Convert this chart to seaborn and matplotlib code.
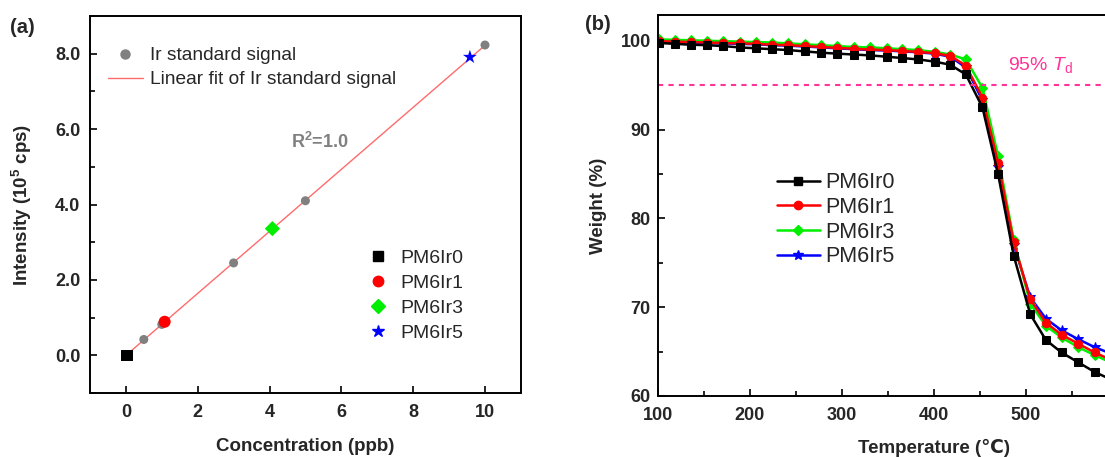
import numpy as np
import pandas as pd
import matplotlib
matplotlib.use("Agg")
import matplotlib.pyplot as plt
import seaborn as sns
from matplotlib.lines import Line2D
from matplotlib.ticker import MultipleLocator, FixedLocator

# ---------------- data: panel (a) ----------------
std_conc = [0, 0.5, 1, 3, 5, 10]
std_intensity = [0.0, 0.42, 0.82, 2.45, 4.10, 8.23]
sample_names = ["PM6Ir0", "PM6Ir1", "PM6Ir3", "PM6Ir5"]
sample_conc = [0.03, 1.08, 4.08, 9.58]
sample_intensity = [0.0, 0.89, 3.36, 7.91]

# ---------------- data: panel (b) ----------------
temperature = [101, 119, 136, 154, 171, 189, 207, 224, 242, 260, 278, 295, 313, 331, 349,
               366, 383, 401, 418, 435, 453, 470, 487, 505, 522, 539, 557, 575, 592]
w_ir0 = [99.75, 99.65, 99.55, 99.5, 99.4, 99.25, 99.15, 99.05, 98.95, 98.8, 98.65, 98.55, 98.45,
         98.35, 98.2, 98.05, 97.9, 97.65, 97.3, 96.2, 92.5, 85.0, 75.8, 69.2, 66.3, 64.9, 63.8,
         62.7, 61.9]
w_ir1 = [99.95, 99.9, 99.85, 99.8, 99.75, 99.7, 99.65, 99.55, 99.5, 99.4, 99.3, 99.2, 99.1,
         99.0, 98.95, 98.85, 98.75, 98.6, 98.3, 97.2, 93.6, 86.2, 77.3, 70.9, 68.25, 66.9, 65.9,
         64.9, 64.1]
w_ir3 = [100.15, 100.1, 100.05, 100.0, 99.95, 99.9, 99.85, 99.8, 99.7, 99.6, 99.5, 99.4, 99.3,
         99.25, 99.15, 99.05, 98.95, 98.75, 98.45, 97.9, 94.7, 87.0, 77.6, 70.4, 67.9, 66.6, 65.5,
         64.6, 63.8]
w_ir5 = [99.9, 99.85, 99.8, 99.75, 99.7, 99.65, 99.6, 99.5, 99.45, 99.35, 99.25, 99.15, 99.05,
         98.95, 98.9, 98.8, 98.7, 98.55, 98.2, 97.0, 93.3, 85.8, 77.0, 71.1, 68.7, 67.4, 66.4,
         65.5, 64.8]
td_level = 95
temp_ticks = [100, 200, 300, 400, 500]

sns.set_theme(style="ticks")
plt.rcParams["font.family"] = ["Liberation Sans", "DejaVu Sans"]
plt.rcParams["mathtext.fontset"] = "custom"
plt.rcParams["mathtext.rm"] = "Liberation Sans"
plt.rcParams["mathtext.it"] = "Liberation Sans:italic"
plt.rcParams["mathtext.bf"] = "Liberation Sans:bold"

fig = plt.figure(figsize=(11.05, 4.57), dpi=100)
ax1 = fig.add_axes([0.0814, 0.140, 0.390, 0.825])
ax2 = fig.add_axes([0.5952, 0.1335, 0.4995, 0.8337])


def style_axes(ax, xpad, ypad):
    for s in ax.spines.values():
        s.set_linewidth(1.4)
        s.set_color("black")
    ax.tick_params(which="both", direction="in", color="black", width=1.2)
    ax.tick_params(which="major", length=5)
    ax.tick_params(which="minor", length=3.5)
    ax.tick_params(axis="x", pad=xpad)
    ax.tick_params(axis="y", pad=ypad)
    for lab in ax.get_xticklabels() + ax.get_yticklabels():
        lab.set_fontweight("bold")
        lab.set_fontsize(13)


# ---------------- panel (a) ----------------
sns.regplot(x=std_conc, y=std_intensity, ax=ax1, scatter=False, ci=None,
            line_kws=dict(color="#ff6b6b", lw=1.0))
sns.scatterplot(x=std_conc, y=std_intensity, ax=ax1, color="#808080", s=42,
                edgecolor="none", zorder=3)
sample_colors = ["black", "red", "#00ee00", "blue"]
sample_markers = ["s", "o", "D", "*"]
sample_sizes = [70, 75, 60, 110]
for n, xv, yv, c, m, sz in zip(sample_names, sample_conc, sample_intensity,
                               sample_colors, sample_markers, sample_sizes):
    sns.scatterplot(x=[xv], y=[yv], ax=ax1, color=c, marker=m, s=sz,
                    edgecolor="none", zorder=4)

ax1.set_xlim(-1, 11)
ax1.set_ylim(-1, 9)
ax1.xaxis.set_major_locator(MultipleLocator(2))
ax1.yaxis.set_minor_locator(MultipleLocator(1))
ax1.set_yticks([0, 2, 4, 6, 8])
ax1.set_yticklabels(["0.0", "2.0", "4.0", "6.0", "8.0"])
ax1.set_xlabel("Concentration (ppb)", fontsize=13.5, fontweight="bold", labelpad=12)
ax1.set_ylabel(r"Intensity (10$^{\mathbf{5}}$ cps)", fontsize=13.5, fontweight="bold",
               labelpad=15)
style_axes(ax1, 8, 7)

h_std = Line2D([], [], ls="none", marker="o", color="#808080", markersize=6.5)
h_fit = Line2D([], [], color="#ff6b6b", lw=1.0)
leg1 = ax1.legend([h_std, h_fit], ["Ir standard signal", "Linear fit of Ir standard signal"],
                  loc="upper left", bbox_to_anchor=(0.042, 0.918), frameon=False,
                  fontsize=13.8, handlelength=1.82, handletextpad=0.36, labelspacing=0.35,
                  borderaxespad=0, borderpad=0)
ax1.add_artist(leg1)
hs = [Line2D([], [], ls="none", marker=m, color=c, markersize=ms)
      for m, c, ms in zip(sample_markers, sample_colors, [7, 7.5, 7, 9])]
ax1.legend(hs, sample_names, loc="upper left", bbox_to_anchor=(0.646, 0.382), frameon=False,
           fontsize=14, handlelength=1.0, handletextpad=0.65, labelspacing=0.38,
           borderaxespad=0, borderpad=0)
ax1.text(4.6, 5.65, r"R$^{\mathbf{2}}$=1.0", color="#808080", fontsize=13,
         fontweight="bold", va="center")

# ---------------- panel (b) ----------------
series = [("PM6Ir5", w_ir5, "blue", "*", 7.5),
          ("PM6Ir3", w_ir3, "#00ee00", "D", 5.5),
          ("PM6Ir1", w_ir1, "red", "o", 6),
          ("PM6Ir0", w_ir0, "black", "s", 6)]
handles = {}
for name, w, c, m, ms in series:
    sns.lineplot(x=temperature, y=w, ax=ax2, color=c, marker=m, markersize=ms,
                 markeredgecolor=c, linewidth=1.8, label=name)
    handles[name] = Line2D([], [], color=c, marker=m, markersize=ms, lw=1.8)
ax2.axhline(td_level, color="#ff3399", lw=1.5, ls=(0, (2.5, 2.5)))
ax2.text(481, 97.3, r"95% $\mathit{T}_{\mathrm{d}}$", color="#ff3399", fontsize=14,
         va="center")

ax2.set_xlim(100, 700)
ax2.set_ylim(60, 102.9)
ax2.xaxis.set_major_locator(FixedLocator(temp_ticks))
ax2.xaxis.set_minor_locator(MultipleLocator(50))
ax2.yaxis.set_major_locator(MultipleLocator(10))
ax2.yaxis.set_minor_locator(MultipleLocator(5))
ax2.set_xlabel("Temperature (\u2103)", fontsize=13.5, fontweight="bold", labelpad=10.5)
ax2.set_ylabel("Weight (%)", fontsize=13.5, fontweight="bold", labelpad=10)
style_axes(ax2, 8, 5)
ax2.legend([handles[n] for n in sample_names], sample_names, loc="upper left",
           bbox_to_anchor=(0.216, 0.587), frameon=False, fontsize=15.5,
           handlelength=2.0, handletextpad=0.23, labelspacing=0.17,
           borderaxespad=0, borderpad=0)

fig.text(0.009, 0.94, "(a)", fontsize=14.5, fontweight="bold", va="center")
fig.text(0.529, 0.947, "(b)", fontsize=14.5, fontweight="bold", va="center")

fig.savefig("out.png", dpi=100)
